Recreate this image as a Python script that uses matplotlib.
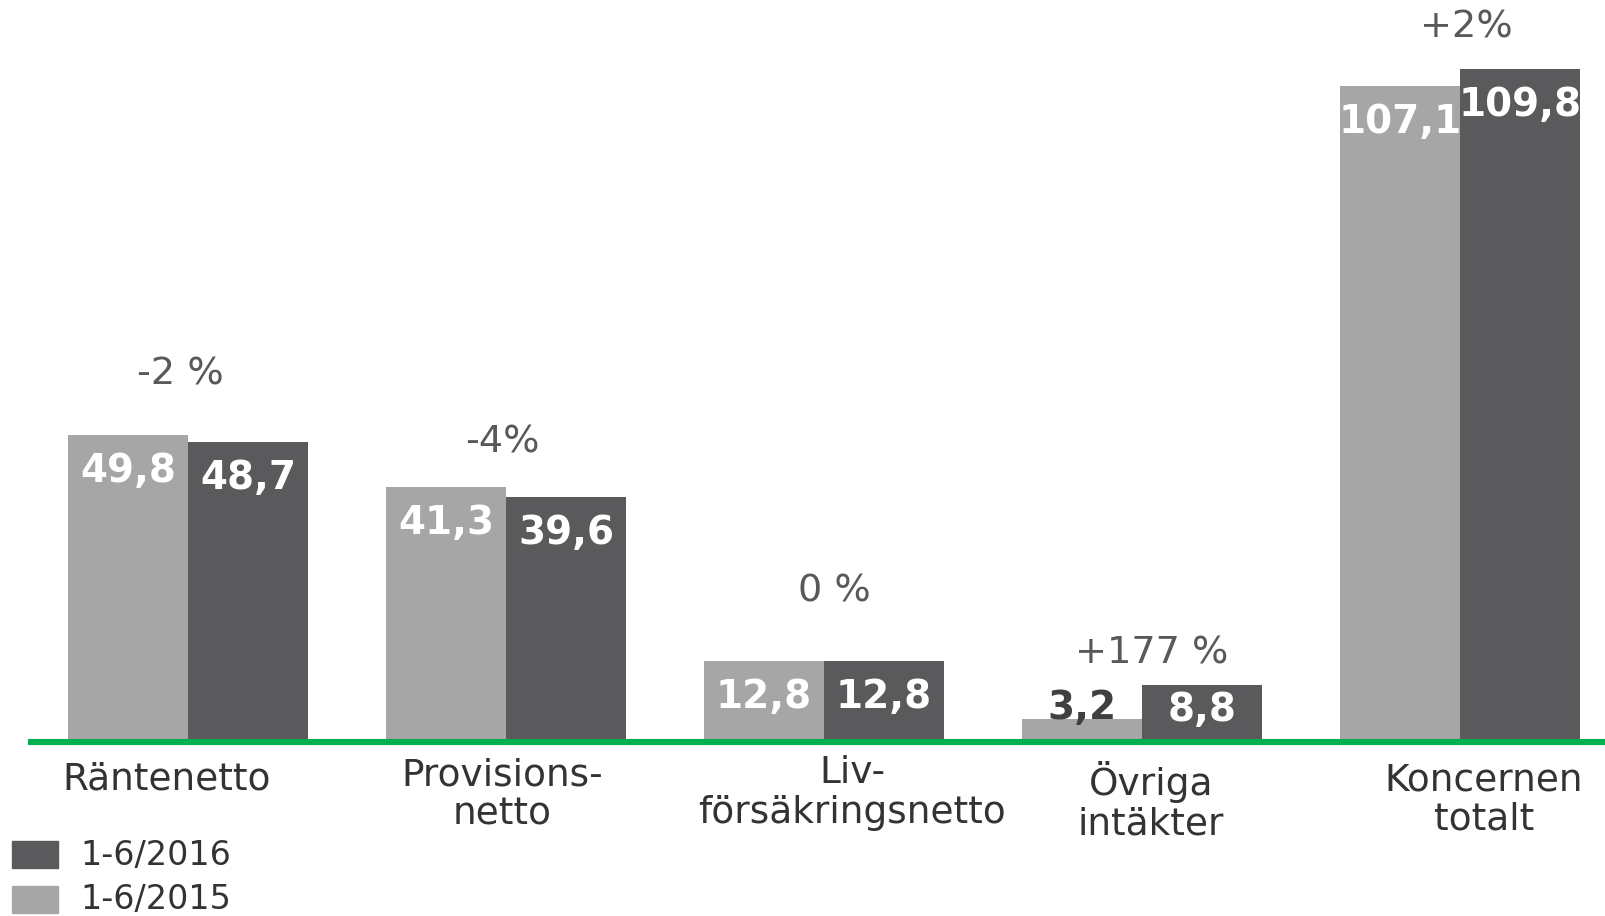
import matplotlib.pyplot as plt
from matplotlib.patches import Rectangle

# data
categories = ['Räntenetto', 'Provisions-\nnetto', 'Liv-\nförsäkringsnetto', 'Övriga\nintäkter', 'Koncernen\ntotalt']
values_2015 = [49.8, 41.3, 12.8, 3.2, 107.1]
values_2016 = [48.7, 39.6, 12.8, 8.8, 109.8]
labels_2015 = ['49,8', '41,3', '12,8', '3,2', '107,1']
labels_2016 = ['48,7', '39,6', '12,8', '8,8', '109,8']
changes = ['-2 %', '-4%', '0 %', '+177 %', '+2%']
series_names = ['1-6/2016', '1-6/2015']

light = '#a6a6a6'
dark = '#5a5a5c'
green = '#00b050'

W, H = 1605, 916
fig = plt.figure(figsize=(W / 100, H / 100), dpi=100)
ax = fig.add_axes([0, 0, 1, 1])

# pixel layout -> data coordinates
x0, dx = 188, 318          # group centre of first group, spacing (px)
base, scale = 739, 6.1     # baseline px from top, px per unit
ax.set_xlim((0 - x0) / dx, (W - x0) / dx)
ax.set_ylim((base - H) / scale, base / scale)
ax.axis('off')

bw = 120 / dx
pos = list(range(len(categories)))
ax.bar([p - bw / 2 for p in pos], values_2015, width=bw, color=light, zorder=2)
ax.bar([p + bw / 2 for p in pos], values_2016, width=bw, color=dark, zorder=2)

# green baseline
ax.plot([(28 - x0) / dx, (W - x0) / dx], [-3 / scale, -3 / scale], color=green, lw=4.4,
        solid_capstyle='butt', zorder=3)

fs = 28
off = 36 / scale
for p, v, t in zip(pos, values_2015, labels_2015):
    if v > 10:
        ax.text(p - bw / 2, v - off, t, ha='center', va='center', color='white',
                fontsize=fs, fontweight='bold', zorder=4)
    else:
        ax.text(p - bw / 2, v + 11 / scale, t, ha='center', va='center', color='#404040',
                fontsize=fs, fontweight='bold', zorder=4)
for p, v, t in zip(pos, values_2016, labels_2016):
    y = v - off if v > 10 else v / 2 + 2 / scale
    ax.text(p + bw / 2, y, t, ha='center', va='center', color='white',
            fontsize=fs, fontweight='bold', zorder=4)

# change labels
chg_y = [375, 443, 591, 653, 28]
chg_dx = [-8, -4, 10, 10, 6]
for p, t, yp, xo in zip(pos, changes, chg_y, chg_dx):
    ax.text(p + xo / dx, (base - yp) / scale, t, ha='center', va='center',
            color='#595959', fontsize=27.5)

# category labels
cat_y = [780, 795, 793, 802, 800]
cat_dx = [-21, -4, 28, 9, 24]
for p, t, yp, xo in zip(pos, categories, cat_y, cat_dx):
    ax.text(p + xo / dx, (base - yp) / scale, t, ha='center', va='center',
            color='#333333', fontsize=27, linespacing=1.12)

# legend
for i, (name, col) in enumerate(zip(series_names, [dark, light])):
    top = 841 + i * 45
    fig.patches.append(Rectangle((12 / W, 1 - (top + 27) / H), 46 / W, 27 / H,
                                 transform=fig.transFigure, color=col))
    fig.text(80 / W, 1 - (top + 14) / H, name, ha='left', va='center',
             color='#333333', fontsize=24)

fig.savefig('out.png', dpi=100)
